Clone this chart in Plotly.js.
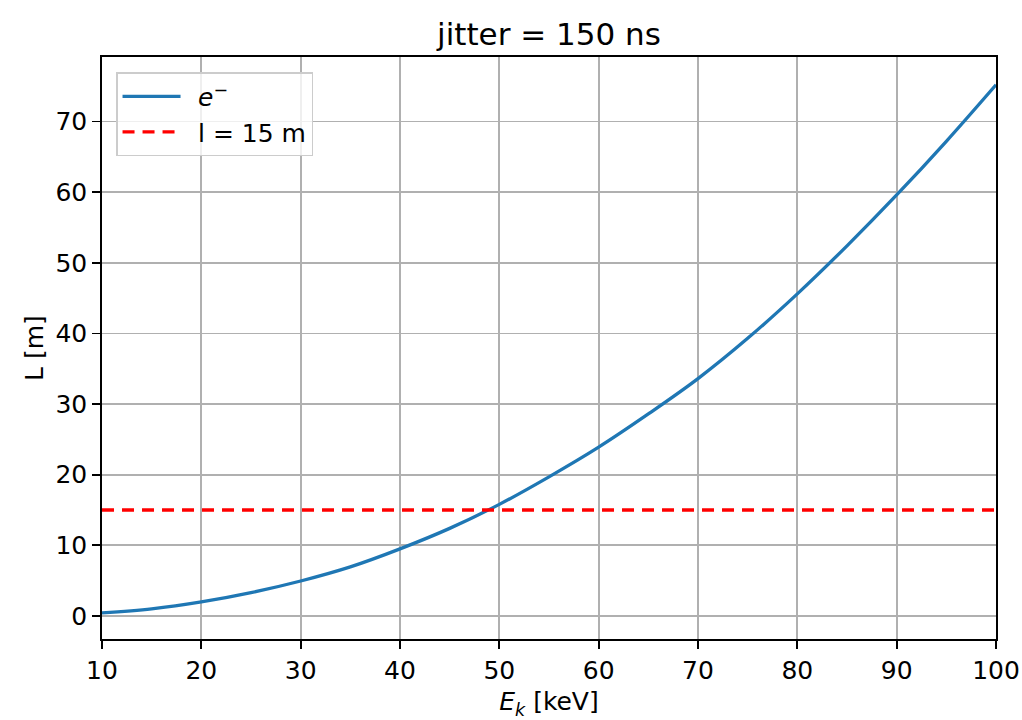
<!DOCTYPE html>
<html>
<head>
<meta charset="utf-8">
<script src="https://cdn.plot.ly/plotly-3.0.1.min.js"></script>
<style>html,body{margin:0;padding:0;background:#fff;}#chart{width:1022px;height:720px;}</style>
</head>
<body>
<div id="chart"></div>
<script>
// Kinetic energy [keV]
const energy = [10, 15, 20, 25, 30, 35, 40, 45, 50, 55, 60, 65, 70, 75, 80, 85, 90, 95, 100];
// Flight length L [m] for electrons
const lengthE = [0.43, 1.0, 1.98, 3.3, 4.95, 6.95, 9.5, 12.4, 15.8, 19.7, 23.9, 28.6, 33.6, 39.3, 45.6, 52.4, 59.6, 67.2, 75.2];
// Reference length line
const limitX = [10, 100];
const limitL = [15, 15];
const xTicks = [10, 20, 30, 40, 50, 60, 70, 80, 90, 100];
const yTicks = [0, 10, 20, 30, 40, 50, 60, 70];

const font = "DejaVu Sans";

const traces = [
  {
    x: energy, y: lengthE, type: "scatter", mode: "lines",
    name: "\u2002<i>e</i><sup>−</sup>",
    line: {color: "#1f77b4", width: 3.3, shape: "spline", smoothing: 1},
    legendgroup: "a"
  },
  {
    x: limitX, y: limitL, type: "scatter", mode: "lines",
    name: "\u2002l = 15 m",
    line: {color: "#ff0000", width: 3.3, dash: "12px,8px"},
    legendgroup: "b"
  }
];

const axisCommon = {
  showline: true, linecolor: "#000", linewidth: 1.8, mirror: true,
  showgrid: true, gridcolor: "#b0b0b0", gridwidth: 1.8,
  zeroline: false,
  ticks: "outside", ticklen: 8, tickwidth: 1.8, tickcolor: "#000",
  tickfont: {family: font, size: 25, color: "#000"}
};

const layout = {
  width: 1022, height: 720,
  paper_bgcolor: "#fff", plot_bgcolor: "#fff",
  margin: {l: 102, r: 26, t: 57, b: 81},
  showlegend: true,
  title: {
    text: "jitter = 150 ns",
    font: {family: font, size: 31, color: "#000"},
    x: 0.5, xanchor: "center", xref: "paper",
    y: 0.953, yanchor: "middle", yref: "container"
  },
  xaxis: Object.assign({}, axisCommon, {
    range: [10, 100], tickvals: xTicks, ticktext: xTicks.map(String),
    title: {text: "<i>E<sub>k</sub></i> [keV]", font: {family: font, size: 25, color: "#000"}, standoff: 9}
  }),
  yaxis: Object.assign({}, axisCommon, {
    range: [-3.26, 79.13], tickvals: yTicks, ticktext: yTicks.map(String),
    title: {text: "L [m]", font: {family: font, size: 25, color: "#000"}, standoff: 5}
  }),
  legend: {
    x: 0.0157, y: 0.974, xanchor: "left", yanchor: "top",
    bgcolor: "rgba(255,255,255,0.8)", bordercolor: "#cccccc", borderwidth: 1.5,
    font: {family: font, size: 25, color: "#000"},
    traceorder: "grouped", tracegroupgap: 0, itemwidth: 58
  }
};

Plotly.newPlot("chart", traces, layout, {staticPlot: true, displayModeBar: false});
</script>
</body>
</html>
